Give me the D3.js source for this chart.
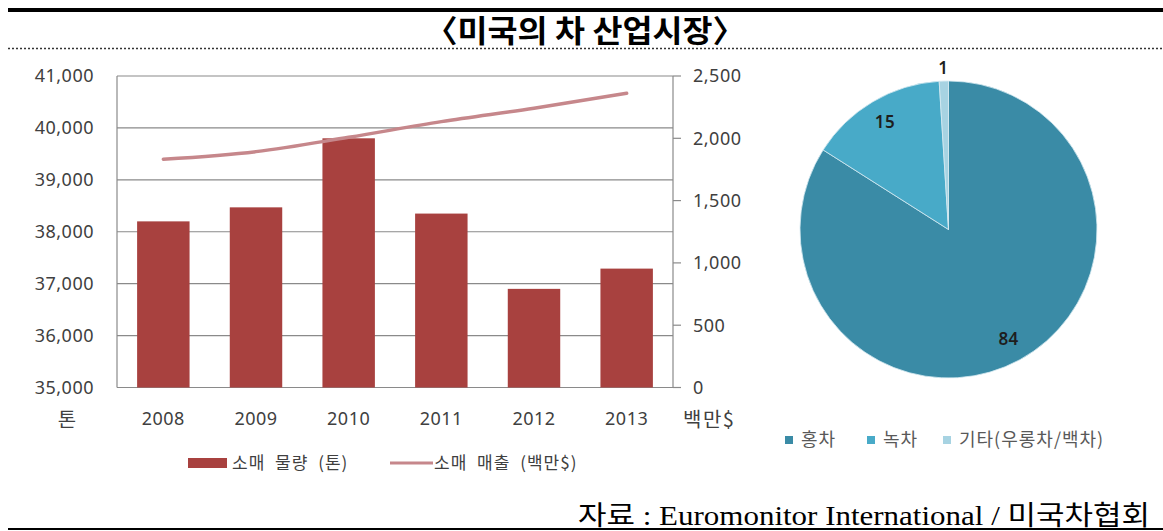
<!DOCTYPE html>
<html>
<head>
<meta charset="utf-8">
<script src="https://cdn.jsdelivr.net/npm/d3@7/dist/d3.min.js"></script>
<style>
  html, body { margin: 0; padding: 0; background: #fff; }
  svg { display: block; }
</style>
</head>
<body>
<svg id="chart" width="1163" height="531"></svg>
<script>
// ---- data ----
const years = ["2008", "2009", "2010", "2011", "2012", "2013"];
const retailVolume = [38200, 38470, 39800, 38350, 36900, 37290];   // 톤
const retailSales = [1832, 1893, 2008, 2134, 2241, 2361];           // 백만$
const leftTicks = [35000, 36000, 37000, 38000, 39000, 40000, 41000];
const rightTicks = [0, 500, 1000, 1500, 2000, 2500];
const teaTypes = ["홍차", "녹차", "기타(우롱차/백차)"];
const teaShares = [84, 15, 1];

const svg = d3.select("#chart");
const sans = "'Noto Sans', 'Noto Sans CJK KR', sans-serif";
const kr = "'Noto Sans CJK KR', 'Noto Sans', sans-serif";

// ---- header ----
svg.append("rect").attr("x", 8).attr("y", 8).attr("width", 1155).attr("height", 4).attr("fill", "#000");
svg.append("text")
  .attr("x", 425).attr("y", 42)
  .attr("textLength", 320).attr("lengthAdjust", "spacingAndGlyphs")
  .attr("font-family", kr).attr("font-weight", 700).attr("font-size", 31)
  .attr("fill", "#000")
  .text("〈미국의 차 산업시장〉");
svg.append("line").attr("x1", 8).attr("x2", 1163).attr("y1", 48.5).attr("y2", 48.5)
  .attr("stroke", "#333").attr("stroke-width", 1.5).attr("stroke-dasharray", "2,2");

// ---- combo chart ----
const plotL = 117, plotR = 673, plotT = 76, plotB = 387.5;
const x = d3.scaleBand().domain(years).range([plotL, plotR]).paddingInner(0.434).paddingOuter(0.217);
const yL = d3.scaleLinear().domain([35000, 41000]).range([plotB, plotT]);
const yR = d3.scaleLinear().domain([0, 2500]).range([plotB, plotT]);

const grid = svg.append("g").attr("stroke", "#8a8a8a").attr("stroke-width", 1.2);
leftTicks.forEach(t => {
  grid.append("line").attr("x1", plotL).attr("x2", plotR).attr("y1", yL(t)).attr("y2", yL(t));
});
grid.append("line").attr("x1", plotL).attr("x2", plotL).attr("y1", plotT).attr("y2", plotB);
grid.append("line").attr("x1", plotR).attr("x2", plotR).attr("y1", plotT).attr("y2", plotB);

svg.append("g").selectAll("rect").data(years).join("rect")
  .attr("x", d => x(d)).attr("width", x.bandwidth())
  .attr("y", (d, i) => yL(retailVolume[i]))
  .attr("height", (d, i) => yL(35000) - yL(retailVolume[i]))
  .attr("fill", "#a8413f");

const line = d3.line()
  .x((d, i) => x(years[i]) + x.bandwidth() / 2)
  .y(d => yR(d))
  .curve(d3.curveMonotoneX);
svg.append("path").datum(retailSales).attr("d", line)
  .attr("fill", "none").attr("stroke", "#c6878b").attr("stroke-width", 3.5).attr("stroke-linecap", "round");

// left axis labels
svg.append("g").selectAll("text").data(leftTicks).join("text")
  .attr("x", 94).attr("y", d => yL(d)).attr("dy", "0.35em")
  .attr("text-anchor", "end").attr("font-family", sans).attr("font-size", 18).attr("letter-spacing", 0.5)
  .attr("fill", "#404040")
  .text(d => d3.format(",")(d));

// right axis ticks + labels
const rAx = svg.append("g");
rAx.selectAll("line").data(rightTicks).join("line")
  .attr("x1", plotR).attr("x2", plotR + 8).attr("y1", d => yR(d)).attr("y2", d => yR(d))
  .attr("stroke", "#8a8a8a").attr("stroke-width", 1.2);
rAx.selectAll("text").data(rightTicks).join("text")
  .attr("x", 693).attr("y", d => yR(d)).attr("dy", "0.35em")
  .attr("font-family", sans).attr("font-size", 18).attr("letter-spacing", 0.5).attr("fill", "#404040")
  .text(d => d3.format(",")(d));

// category labels
svg.append("g").selectAll("text").data(years).join("text")
  .attr("x", d => x(d) + x.bandwidth() / 2).attr("y", 419).attr("dy", "0.35em")
  .attr("text-anchor", "middle").attr("font-family", sans).attr("font-size", 18).attr("letter-spacing", 0.5)
  .attr("fill", "#404040")
  .text(d => d);

svg.append("text").attr("x", 67).attr("y", 420).attr("dy", "0.35em").attr("text-anchor", "middle")
  .attr("font-family", kr).attr("font-size", 20).attr("fill", "#404040").text("톤");
svg.append("text").attr("x", 683).attr("y", 420).attr("dy", "0.35em")
  .attr("font-family", kr).attr("font-size", 20).attr("letter-spacing", 1.5).attr("fill", "#404040").text("백만$");

// legend
const legendText = (sel) => sel.attr("font-family", kr).attr("font-size", 17)
  .attr("letter-spacing", 1).attr("word-spacing", 5).attr("fill", "#404040");
svg.append("rect").attr("x", 188).attr("y", 458).attr("width", 39).attr("height", 10).attr("fill", "#a8413f");
svg.append("text").attr("x", 232).attr("y", 463).attr("dy", "0.35em").call(legendText).text("소매 물량 (톤)");
svg.append("line").attr("x1", 390).attr("x2", 433).attr("y1", 463).attr("y2", 463)
  .attr("stroke", "#c6878b").attr("stroke-width", 3);
svg.append("text").attr("x", 434).attr("y", 463).attr("dy", "0.35em").call(legendText).text("소매 매출 (백만$)");

// ---- pie chart ----
const pieColors = ["#3a8ba6", "#48aac8", "#a7d3e2"];
const cx = 948.5, cy = 229.5, r = 148.5;
const pie = d3.pie().sort(null).value(d => d);
const arcs = pie(teaShares);
const arc = d3.arc().innerRadius(0).outerRadius(r);
const pg = svg.append("g").attr("transform", `translate(${cx},${cy})`);
pg.selectAll("path").data(arcs).join("path")
  .attr("d", arc).attr("fill", (d, i) => pieColors[i])
  .attr("stroke", "#d6eaf1").attr("stroke-width", 0.8);

pg.selectAll("text").data(arcs).join("text")
  .attr("transform", d => {
    const a = (d.startAngle + d.endAngle) / 2;
    const rr = d.data < 5 ? r + 13 : r * 0.84;
    return `translate(${Math.sin(a) * rr},${-Math.cos(a) * rr})`;
  })
  .attr("text-anchor", "middle").attr("dy", "0.35em")
  .attr("font-family", sans).attr("font-weight", 600).attr("font-size", 17).attr("letter-spacing", 0.5)
  .attr("fill", "#1e1e1e")
  .text(d => d.data);

// pie legend
const legX = [785, 867, 943];
const pl = svg.append("g");
teaTypes.forEach((t, i) => {
  pl.append("rect").attr("x", legX[i]).attr("y", 436).attr("width", 8).attr("height", 8).attr("fill", pieColors[i]);
  pl.append("text").attr("x", legX[i] + 16).attr("y", 440).attr("dy", "0.35em")
    .attr("font-family", kr).attr("font-size", 18).attr("letter-spacing", 1).attr("fill", "#595959").text(t);
});

// ---- source ----
svg.append("text").attr("x", 578).attr("y", 525)
  .attr("textLength", 572).attr("lengthAdjust", "spacingAndGlyphs")
  .attr("font-family", "'Liberation Serif', 'Noto Sans CJK KR', serif").attr("font-size", 27).attr("fill", "#000")
  .text("자료 : Euromonitor International / 미국차협회");
svg.append("rect").attr("x", 8).attr("y", 528).attr("width", 1155).attr("height", 2).attr("fill", "#000");
</script>
</body>
</html>
